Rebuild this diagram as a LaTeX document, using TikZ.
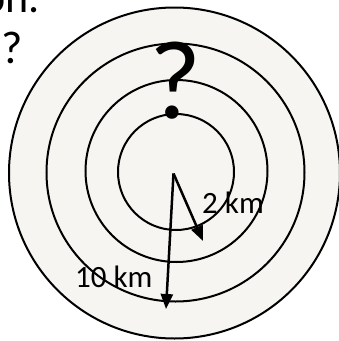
\documentclass[tikz,border=0pt]{standalone}
\usepackage{fontspec}
\setmainfont{Carlito}
\usetikzlibrary{arrows.meta}
\definecolor{ringfill}{RGB}{246,245,241}
\tikzset{
  ring/.style={draw=black, line width=2pt, fill=ringfill},
  radius arrow/.style={draw=black, line width=2.5pt, -{Triangle[length=15pt,width=12pt]}},
  label text/.style={inner sep=0pt, font=\fontsize{31}{36}\selectfont},
}
\begin{document}
\begin{tikzpicture}[x=1pt,y=-1pt]
\useasboundingbox (0,0) rectangle (339,341);
\fill[white] (0,0) rectangle (339,341);
\draw[ring] (174.5,173) circle[radius=165.5pt];
\draw[ring] (175.5,172.5) circle[radius=129pt];
\draw[ring] (176.5,171) circle[radius=91pt];
\draw[ring] (176,172) circle[radius=58pt];
\node[inner sep=0pt, anchor=base, font=\fontsize{112}{120}\selectfont] (bigq) at (175,118) {?};
\node[inner sep=0pt, anchor=base east, font=\fontsize{44}{50}\selectfont] (prevline) at (40,12) {on.};
\node[inner sep=0pt, anchor=base west, font=\fontsize{46}{50}\selectfont] (leftq) at (1,63) {?};
\coordinate (c) at (173.5,173.5);
\coordinate (tenend) at (166,309);
\coordinate (twoend) at (203,241);
\draw[radius arrow] (c) -- (tenend);
\draw[radius arrow] (c) -- (twoend);
\node[label text, anchor=base west] (ten) at (75,287) {10 km};
\node[label text, anchor=base west] (two) at (202,213) {2 km};
\end{tikzpicture}
\end{document}
